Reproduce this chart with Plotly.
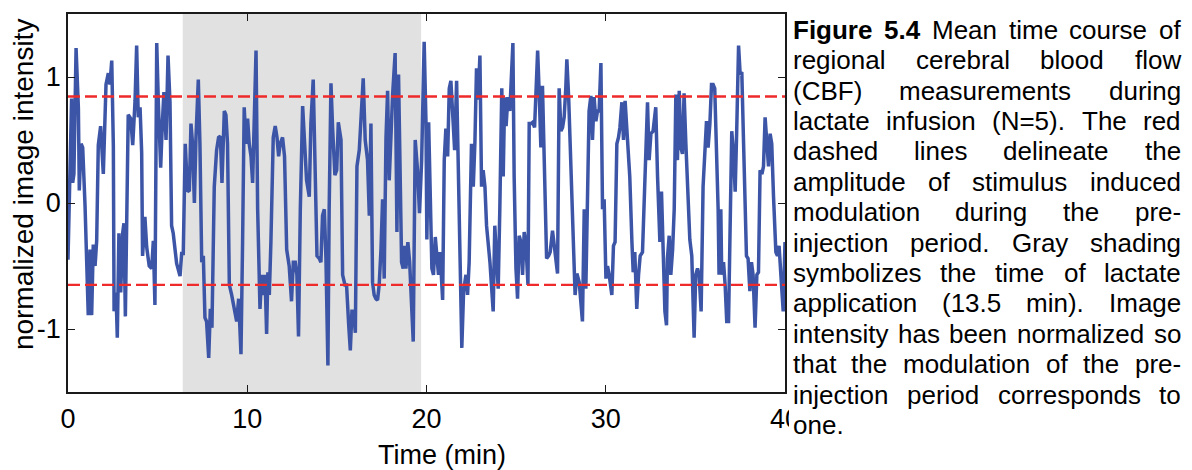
import plotly.graph_objects as go

# ---------------- data ----------------
time_min = [
 0.0,0.2,0.26,0.33,0.45,0.58,0.63,0.73,0.82,0.95,1.13,1.23,1.32,1.41,1.51,1.6,1.69,1.82,1.97,2.12,
 2.25,2.34,2.44,2.53,2.57,2.68,2.75,2.84,2.94,3.05,3.12,3.2,3.36,3.5,3.61,3.74,3.83,3.92,4.02,4.11,
 4.16,4.29,4.39,4.53,4.67,4.76,4.85,4.95,5.04,5.17,5.26,5.35,5.47,5.58,5.69,5.78,5.87,5.97,6.06,6.25,
 6.34,6.43,6.54,6.67,6.77,6.86,6.95,7.05,7.14,7.27,7.36,7.46,7.55,7.64,7.73,7.85,7.94,8.03,8.16,8.29,
 8.4,8.5,8.59,8.72,8.81,8.9,9.0,9.13,9.28,9.41,9.52,9.65,9.74,9.83,9.93,10.02,10.11,10.21,10.3,10.39,
 10.49,10.58,10.71,10.8,10.89,10.99,11.08,11.15,11.23,11.32,11.45,11.56,11.66,11.75,11.84,11.97,12.08,12.2,12.34,12.47,
 12.57,12.68,12.77,12.86,12.96,13.09,13.22,13.31,13.46,13.55,13.68,13.78,13.89,14.02,14.11,14.2,14.3,14.39,14.5,14.57,
 14.67,14.76,14.89,14.99,15.08,15.23,15.32,15.45,15.54,15.66,15.75,15.84,15.93,16.03,16.12,16.25,16.38,16.47,16.58,16.71,
 16.81,16.9,16.99,17.08,17.18,17.27,17.36,17.46,17.55,17.64,17.74,17.83,17.92,18.01,18.11,18.25,18.35,18.44,18.53,18.61,
 18.7,18.78,18.85,18.96,19.06,19.15,19.26,19.37,19.5,19.61,19.73,19.87,19.97,20.02,20.12,20.3,20.39,20.49,20.58,20.67,
 20.76,20.9,20.99,21.08,21.18,21.27,21.36,21.45,21.57,21.68,21.77,21.88,21.97,22.07,22.2,22.29,22.38,22.51,22.61,22.7,
 22.79,22.88,22.98,23.07,23.16,23.26,23.35,23.54,23.63,23.72,23.81,23.91,24.0,24.09,24.2,24.28,24.36,24.44,24.54,24.65,
 24.72,24.82,24.89,24.99,25.08,25.17,25.27,25.36,25.45,25.54,25.66,25.73,25.84,25.92,26.03,26.1,26.2,26.29,26.38,26.47,
 26.56,26.7,26.81,26.9,27.03,27.18,27.31,27.4,27.5,27.59,27.68,27.77,27.83,27.93,28.02,28.15,28.29,28.39,28.52,28.7,
 28.8,28.89,28.98,29.07,29.17,29.26,29.35,29.45,29.54,29.63,29.73,29.82,29.91,30.01,30.1,30.19,30.34,30.43,30.52,30.62,
 30.71,30.79,30.9,30.99,31.08,31.21,31.34,31.46,31.53,31.62,31.73,31.83,31.92,32.05,32.18,32.33,32.42,32.52,32.64,32.79,
 32.89,33.02,33.11,33.2,33.3,33.39,33.44,33.54,33.63,33.73,33.82,33.91,34.0,34.1,34.19,34.28,34.37,34.47,34.56,34.69,
 34.8,34.93,35.02,35.12,35.21,35.32,35.43,35.54,35.62,35.71,35.81,35.9,35.99,36.08,36.18,36.27,36.32,36.42,36.47,36.57,
 36.66,36.75,36.85,36.94,37.03,37.13,37.22,37.31,37.41,37.5,37.59,37.69,37.78,37.85,37.94,38.04,38.13,38.22,38.33,38.43,
 38.52,38.61,38.71,38.8,38.89,38.98,39.08,39.17,39.26,39.36,39.49,39.58,39.67,39.77,39.9,40.0]

intensity = [
 -0.45,0.83,0.16,0.23,1.23,0.75,0.1,0.47,0.44,-0.02,-0.89,-0.37,-0.89,-0.33,-0.5,-0.3,0.46,0.61,0.23,0.94,
 1.03,0.94,1.13,0.45,-0.86,-0.71,-1.07,-0.24,-0.71,-0.24,-0.16,-0.9,0.7,0.67,0.46,0.81,1.25,0.68,0.76,0.4,
 -0.42,-0.11,-0.35,-0.5,-0.52,-0.3,-0.81,1.27,0.8,0.28,0.62,0.88,0.5,1.17,0.8,-0.18,-0.24,-0.4,-0.48,-0.58,
 -0.4,-0.4,0.47,0.09,0.1,0.63,0.47,0.0,0.52,0.98,0.47,-0.47,-0.42,-0.91,-0.94,-1.23,-0.84,-0.99,0.13,0.42,
 0.52,0.53,0.16,0.73,0.7,0.47,-0.65,-0.73,-0.86,-0.94,-0.76,-1.2,-0.31,0.76,0.47,0.67,0.47,0.37,0.16,0.73,
 1.21,-0.05,-0.84,-0.57,-0.73,-0.57,-1.04,-0.55,-0.73,-0.31,0.52,0.61,0.52,0.37,0.47,0.52,0.37,-0.37,-0.5,-0.78,
 -0.47,-0.47,-0.57,-1.06,-0.05,0.77,0.47,0.18,0.05,0.63,0.98,0.34,-0.42,-0.44,-0.47,-0.1,-0.05,-0.44,-1.29,-0.05,
 0.95,0.6,0.22,0.26,0.64,0.5,-0.57,-0.65,-0.65,-0.97,-1.17,-0.86,-0.86,-1.03,0.29,0.42,0.73,0.99,0.5,0.34,
 -0.1,0.63,-0.63,-0.73,-0.76,-0.77,-0.65,-0.37,0.03,-0.6,0.52,0.89,0.18,0.6,0.86,1.19,-0.23,1.02,0.21,-0.47,
 -0.52,-0.34,-0.52,-0.31,-0.47,-0.73,-1.1,0.5,0.26,-0.08,0.34,1.28,0.65,-0.29,0.64,-0.52,-0.57,-0.27,-0.42,-0.57,
 -0.39,-0.77,0.34,0.59,0.37,0.91,0.97,0.76,0.42,0.97,0.39,-0.57,-1.15,-0.7,-0.57,-0.73,-0.47,0.47,0.13,0.48,
 1.07,0.82,1.17,0.13,0.26,0.13,-0.18,-0.47,-0.63,-0.86,-0.18,-0.52,-0.68,-0.05,0.91,0.21,0.84,0.61,0.84,0.73,
 0.97,1.27,0.21,-0.52,-0.76,-0.26,-0.31,-0.57,-0.23,-0.31,-0.65,0.63,0.63,0.64,0.6,0.86,1.21,0.86,0.44,0.93,
 0.42,-0.44,-0.42,-0.39,-0.22,-0.44,-0.56,0.91,0.57,0.6,0.68,0.91,1.14,0.84,0.47,-0.05,-0.73,-0.56,-0.63,-0.94,
 -0.05,-0.68,-0.05,0.73,0.85,0.5,0.84,0.65,0.73,0.73,1.11,-0.05,0.03,-0.6,-0.5,-0.57,-0.73,-0.34,-0.31,0.47,
 0.52,0.6,0.8,0.5,0.81,0.52,0.21,-0.31,-0.55,-0.39,-0.84,-0.57,-0.42,-0.39,0.21,0.8,0.34,0.55,0.57,0.76,
 0.21,-0.31,0.09,-0.44,-0.86,-0.97,-0.44,-0.26,-0.57,-0.37,-0.05,0.86,0.34,0.89,0.44,0.39,0.87,0.47,0.16,-0.29,
 -0.42,-1.07,-0.57,-0.52,-0.57,-0.86,0.13,0.47,0.65,0.44,0.63,0.94,0.94,0.91,0.47,-0.05,-0.57,-0.05,-0.57,-0.47,
 -0.65,-0.94,-0.94,-0.31,0.57,0.39,0.09,0.6,1.25,1.02,1.04,0.47,0.0,-0.42,-0.44,-0.7,-0.47,-0.57,-0.99,-0.57,
 -0.55,0.26,0.23,0.29,0.68,0.52,0.29,0.55,0.47,0.05,-0.39,-0.42,-0.34,-0.57,-0.86,-0.31]

upper_limit = 0.845
lower_limit = -0.65
lactate_start = 6.4
lactate_end = 19.7

x_ticks = [0, 10, 20, 30, 40]
y_ticks = [-1, 0, 1]

caption_lines = [
    "Figure 5.4 Mean time course of",
    "regional cerebral blood flow",
    "(CBF) measurements during",
    "lactate infusion (N=5). The red",
    "dashed lines delineate the",
    "amplitude of stimulus induced",
    "modulation during the pre-",
    "injection period. Gray shading",
    "symbolizes the time of lactate",
    "application (13.5 min). Image",
    "intensity has been normalized so",
    "that the modulation of the pre-",
    "injection period corresponds to",
    "one.",
]
caption_bold_words = 2  # "Figure 5.4"

# ---------------- layout geometry ----------------
W, H = 1192, 470
L, R, T, B = 68, 785, 12, 392

def px(xp):
    return (xp - L) / (R - L)

def py(yp):
    return (B - yp) / (B - T)

FONT = "Liberation Sans, Arial, sans-serif"

fig = go.Figure()
fig.add_trace(go.Scatter(
    x=time_min, y=intensity, mode="lines",
    line=dict(color="#3c55a6", width=3.5),
    hoverinfo="skip", showlegend=False))

for v in (upper_limit, lower_limit):
    fig.add_trace(go.Scatter(
        x=[0, 40], y=[v, v], mode="lines",
        line=dict(color="#ee2a2a", width=2.4, dash="12px,5px"),
        hoverinfo="skip", showlegend=False))

shapes = [
    dict(type="rect", xref="x", yref="paper", x0=lactate_start, x1=lactate_end,
         y0=0, y1=1, fillcolor="rgb(225,225,225)", line=dict(width=0), layer="below"),
    dict(type="rect", xref="paper", yref="paper", x0=px(789), x1=px(W),
         y0=py(H), y1=py(396), fillcolor="white", line=dict(width=0), layer="above"),
]

# ---------------- caption (justified) ----------------
REG = {' ':278,'!':278,'(':333,')':333,',':278,'-':333,'.':278,'=':584,
       'A':667,'B':667,'C':722,'D':722,'E':667,'F':611,'G':778,'H':722,'I':278,'J':500,'K':667,
       'L':556,'M':833,'N':722,'O':778,'P':667,'Q':778,'R':722,'S':667,'T':611,'U':722,'V':667,
       'W':944,'X':667,'Y':667,'Z':611,
       'a':556,'b':556,'c':500,'d':556,'e':556,'f':278,'g':556,'h':556,'i':222,'j':222,'k':500,
       'l':222,'m':833,'n':556,'o':556,'p':556,'q':556,'r':333,'s':500,'t':278,'u':556,'v':500,
       'w':722,'x':500,'y':500,'z':500}
BOLD = {'F':611,'i':278,'g':611,'u':611,'r':389,'e':556,'.':278}
CAP_SIZE = 26
CAP_LEFT, CAP_RIGHT = 790.5, 1179
CAP_Y0, CAP_DY = 28, 30.55

def word_width(w, bold):
    tot = 0
    for ch in w:
        if bold:
            tot += BOLD.get(ch, REG.get(ch, 556) if not ch.isdigit() else 556)
        else:
            tot += REG.get(ch, 556)
    return tot / 1000 * CAP_SIZE

annotations = []
for i, line in enumerate(caption_lines):
    words = line.split(" ")
    bolds = [(i == 0 and k < caption_bold_words) for k in range(len(words))]
    widths = [word_width(w, b) for w, b in zip(words, bolds)]
    yc = CAP_Y0 + i * CAP_DY
    if i == len(caption_lines) - 1 or len(words) == 1:
        gap = 0.278 * CAP_SIZE
    else:
        gap = (CAP_RIGHT - CAP_LEFT - sum(widths)) / (len(words) - 1)
    xpos = CAP_LEFT
    for w, b, wd in zip(words, bolds, widths):
        annotations.append(dict(
            text=f"<b>{w}</b>" if b else w, xref="paper", yref="paper",
            x=px(xpos), y=py(yc), xanchor="left", yanchor="middle",
            showarrow=False, font=dict(family=FONT, size=CAP_SIZE, color="black")))
        xpos += wd + gap

# axis titles
annotations.append(dict(text="normalized image intensity", xref="paper", yref="paper",
                        x=px(23), y=py(183), textangle=-90, showarrow=False,
                        xanchor="center", yanchor="middle",
                        font=dict(family=FONT, size=28, color="black")))
annotations.append(dict(text="Time (min)", xref="paper", yref="paper",
                        x=px(442), y=py(455), showarrow=False,
                        xanchor="center", yanchor="middle",
                        font=dict(family=FONT, size=27, color="black")))

axis_common = dict(showgrid=False, zeroline=False, showline=True, linecolor="#1a1a1a",
                   linewidth=1.6, mirror="ticks", ticks="inside", ticklen=7,
                   tickwidth=1.3, tickcolor="#1a1a1a",
                   tickfont=dict(family=FONT, size=27, color="black"))

fig.update_layout(
    width=W, height=H,
    margin=dict(l=L, r=W - R, t=T, b=H - B, pad=0),
    paper_bgcolor="white", plot_bgcolor="white",
    xaxis=dict(range=[0, 40], tickvals=x_ticks, ticktext=[str(v) for v in x_ticks],
               ticklabelstandoff=2, **axis_common),
    yaxis=dict(range=[-1.5, 1.5], tickvals=y_ticks, ticktext=[str(v) for v in y_ticks],
               ticklabelstandoff=0, **axis_common),
    shapes=shapes, annotations=annotations, showlegend=False,
)

fig.write_html("out.html")
